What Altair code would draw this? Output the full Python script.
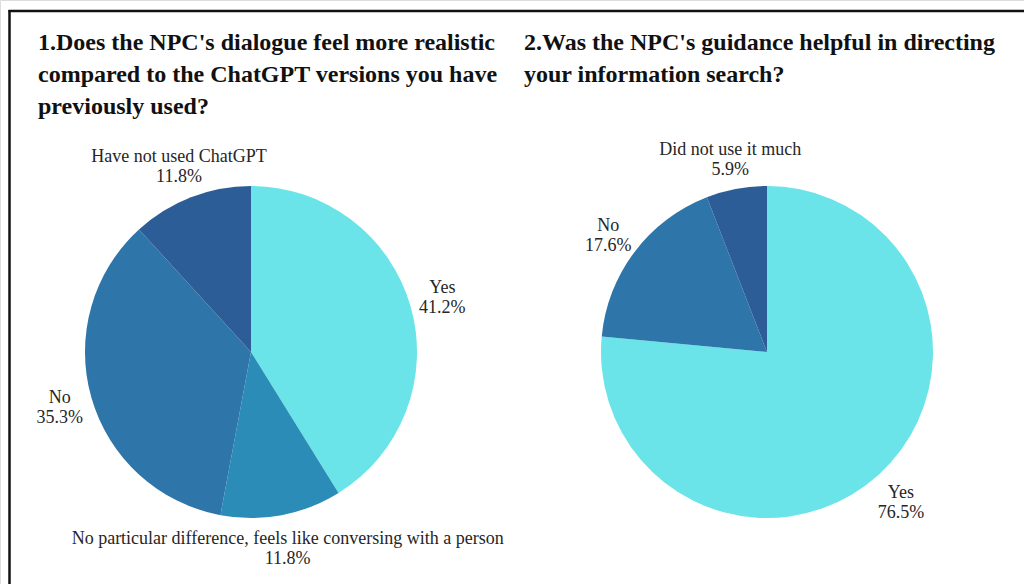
import altair as alt
import pandas as pd

# ---- data ----
q1_title = "1.Does the NPC's dialogue feel more realistic\ncompared to the ChatGPT versions you have\npreviously used?"
q1_categories = [
    "Yes",
    "No particular difference, feels like conversing with a person",
    "No",
    "Have not used ChatGPT",
]
q1_values = [41.2, 11.8, 35.3, 11.8]

q2_title = "2.Was the NPC's guidance helpful in directing\nyour information search?"
q2_categories = ["Yes", "No", "Did not use it much"]
q2_values = [76.5, 17.6, 5.9]

color_domain = [
    "Yes",
    "No particular difference, feels like conversing with a person",
    "No",
    "Have not used ChatGPT",
    "Did not use it much",
]
color_range = ["#6AE4E8", "#2B8CB8", "#2E75AA", "#2C5D96", "#2C5D96"]

FONT = "Liberation Serif"


def frame(cats, vals):
    return pd.DataFrame({
        "idx": list(range(len(cats))),
        "category": cats,
        "value": vals,
        "label": [f"{c}\n{v:.1f}%" for c, v in zip(cats, vals)],
    })


def pie(df, cx, cy, dy):
    base = alt.Chart(df).encode(
        theta=alt.Theta("value:Q", stack=True),
        order=alt.Order("idx:Q"),
        x=alt.value(cx),
        y=alt.value(cy),
    )
    arc = base.mark_arc(outerRadius=166).encode(
        color=alt.Color("category:N",
                        scale=alt.Scale(domain=color_domain, range=color_range),
                        legend=None)
    )
    txt = base.mark_text(radius=199, dy=dy, font=FONT, fontSize=18, color="#262626",
                         lineBreak="\n", lineHeight=20, align="center",
                         baseline="middle").encode(text="label:N")
    return alt.layer(arc, txt)


def title(t, x, y):
    return alt.Chart(pd.DataFrame({"t": [t]})).mark_text(
        align="left", baseline="alphabetic", font=FONT, fontSize=24,
        fontWeight="bold", color="#111111", lineBreak="\n", lineHeight=32
    ).encode(text="t:N", x=alt.value(x), y=alt.value(y))


dummy = pd.DataFrame({"a": [0]})
vline = alt.Chart(dummy).mark_rule(color="#111111", strokeWidth=2.5).encode(
    x=alt.value(9.5), y=alt.value(10), y2=alt.value(584))
hline = alt.Chart(dummy).mark_rule(color="#111111", strokeWidth=2.5).encode(
    y=alt.value(11), x=alt.value(8.5), x2=alt.value(1024))

chart = alt.layer(
    pie(frame(q1_categories, q1_values), 251, 352, -9),
    pie(frame(q2_categories, q2_values), 767, 352, -6),
    title(q1_title, 38, 50),
    title(q2_title, 524, 50),
    vline,
    hline,
).resolve_scale(theta="independent").properties(
    width=1024, height=584, autosize=alt.AutoSizeParams(type="none"), padding=0
).configure_view(stroke=None).configure(background="white")

chart.save("out.html", embed_options={"renderer": "svg", "actions": False})
